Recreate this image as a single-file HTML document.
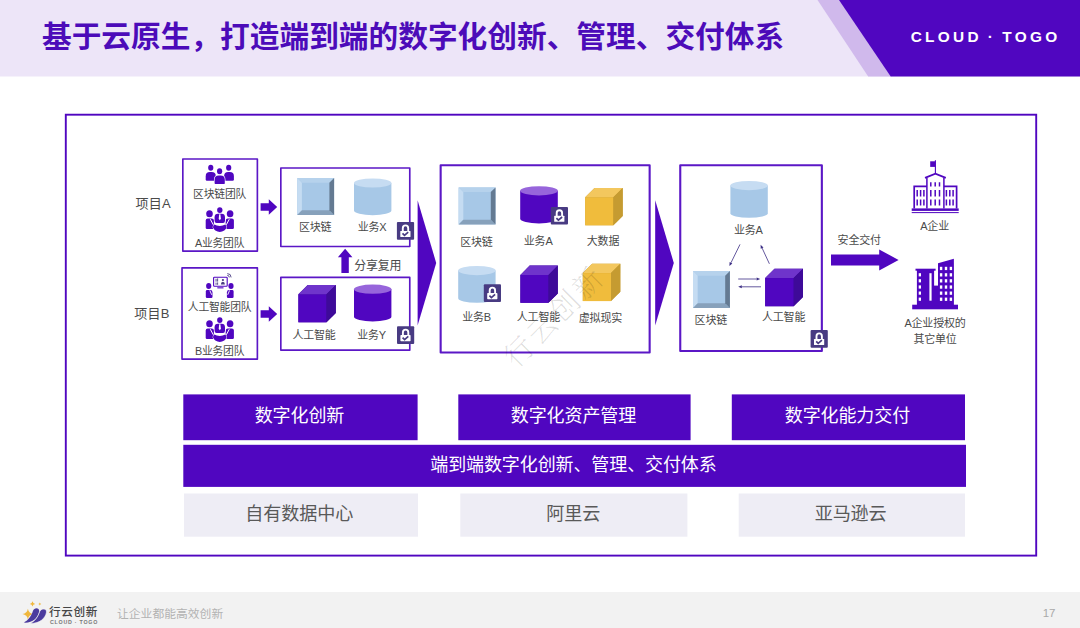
<!DOCTYPE html>
<html lang="zh-CN">
<head>
<meta charset="utf-8">
<title>基于云原生，打造端到端的数字化创新、管理、交付体系</title>
<style>
html,body{margin:0;padding:0;background:#fff;}
body{width:1080px;height:628px;overflow:hidden;font-family:"Liberation Sans","Noto Sans CJK SC",sans-serif;}
#slide{position:relative;width:1080px;height:628px;overflow:hidden;background:#fff;}
#hdr{position:absolute;left:0;top:0;width:1080px;height:77px;}
#hdr svg{position:absolute;left:0;top:0;}
#title{position:absolute;left:42px;top:37px;transform:translateY(-50%);margin:0;font-size:29.7px;line-height:1;font-weight:700;color:#4c0bb9;white-space:nowrap;letter-spacing:0px;}
#brand{position:absolute;left:985.6px;top:36.8px;transform:translate(-50%,-50%);font-size:15.4px;font-weight:700;color:#fff;letter-spacing:3.3px;word-spacing:-1.6px;white-space:nowrap;line-height:1;}
#frame{position:absolute;left:64.4px;top:113.6px;width:972.6px;height:443px;}
.bx{position:absolute;}
.t{position:absolute;transform:translate(-50%,-50%);white-space:nowrap;line-height:1;letter-spacing:-0.2px;}
.bar{position:absolute;white-space:nowrap;}
.bar span{position:absolute;transform:translate(-50%,-50%);line-height:1;letter-spacing:-0.1px;}
.wm{position:absolute;transform:translate(-50%,-50%) rotate(-45deg);font-family:"Liberation Serif","Noto Serif CJK SC",serif;font-weight:200;font-size:29px;color:rgba(0,0,0,0.14);white-space:nowrap;line-height:1;letter-spacing:3.2px;}
#shapes{position:absolute;left:0;top:0;}
#ftr{position:absolute;left:0;top:592.2px;width:1080px;height:36px;background:#f2f2f2;}
#ftr .name{position:absolute;left:49px;top:14px;font-size:11.6px;font-weight:500;color:#454545;letter-spacing:0.65px;line-height:1;white-space:nowrap;}
#ftr .en{position:absolute;left:50px;top:27.8px;font-size:5.3px;font-weight:700;color:#777;letter-spacing:0.75px;line-height:1;white-space:nowrap;}
#ftr .tag{position:absolute;left:117px;top:22.6px;transform:translateY(-50%);font-size:11.8px;color:#b2b2b2;line-height:1;white-space:nowrap;}
#ftr .pg{position:absolute;right:24.5px;top:22.3px;transform:translateY(-50%);font-size:11.5px;color:#a9a9a9;line-height:1;}
</style>
</head>
<body>
<div id="slide">
<div id="hdr">
<svg width="1080" height="77" viewBox="0 0 1080 77"><rect x="0" y="0" width="1080" height="76.5" fill="#ede5f8"/><polygon points="817.5,0 840,0 891.5,76.5 868.2,76.5" fill="#d0b9ec"/><polygon points="839,0 1080,0 1080,76.5 890.7,76.5" fill="#5006c0"/></svg>
<h1 id="title">基于云原生，打造端到端的数字化创新、管理、交付体系</h1>
<div id="brand">CLOUD · TOGO</div>
</div>
<div id="frame"></div>
<svg id="shapes" width="1080" height="628" viewBox="0 0 1080 628">
<rect x="183.3" y="394.4" width="234.30" height="45.80" fill="#5006c0"/>
<rect x="458.3" y="394.4" width="232.30" height="45.80" fill="#5006c0"/>
<rect x="731.8" y="394.4" width="233.20" height="45.80" fill="#5006c0"/>
<rect x="183.3" y="444.8" width="782.70" height="42.10" fill="#5006c0"/>
<rect x="184" y="493.5" width="234.00" height="43.20" fill="#eeedf5"/>
<rect x="460.3" y="493.5" width="227.10" height="43.20" fill="#eeedf5"/>
<rect x="738.7" y="493.5" width="226.30" height="43.20" fill="#eeedf5"/>
<rect x="65.8" y="114.7" width="970.4" height="440.9" fill="none" stroke="#5006c0" stroke-width="1.9"/>
<rect x="182.825" y="159.02499999999998" width="74.54999999999998" height="92.15" fill="none" stroke="#5b17c6" stroke-width="1.65" stroke-linejoin="round"/>
<rect x="182.02499999999998" y="267.825" width="75.35" height="91.35" fill="none" stroke="#5b17c6" stroke-width="1.65" stroke-linejoin="round"/>
<rect x="280.825" y="168.02499999999998" width="128.95000000000002" height="78.45000000000002" fill="none" stroke="#5b17c6" stroke-width="1.65" stroke-linejoin="round"/>
<rect x="280.825" y="277.425" width="128.95000000000002" height="72.74999999999997" fill="none" stroke="#5b17c6" stroke-width="1.65" stroke-linejoin="round"/>
<rect x="440.65000000000003" y="165.25" width="209.00000000000003" height="187.20000000000002" fill="none" stroke="#5b17c6" stroke-width="2.1" stroke-linejoin="round"/>
<rect x="680.25" y="165.25" width="141.59999999999994" height="185.80000000000004" fill="none" stroke="#5b17c6" stroke-width="2.1" stroke-linejoin="round"/>
<g fill="#5006c0"><ellipse cx="210.75" cy="167.8" rx="2.6" ry="3.042"/><path d="M205.7,179.60000000000002 V176.2 Q205.7,172 209.89999999999998,172 H211.6 Q215.79999999999998,172 215.79999999999998,176.2 V179.60000000000002 Q215.79999999999998,180.8 214.6,180.8 H206.89999999999998 Q205.7,180.8 205.7,179.60000000000002 Z"/></g>
<g fill="#5006c0"><ellipse cx="228.7" cy="167.8" rx="2.6" ry="3.042"/><path d="M224.1,179.60000000000002 V176.11599999999999 Q224.1,172 228.21599999999998,172 H229.784 Q233.89999999999998,172 233.89999999999998,176.11599999999999 V179.60000000000002 Q233.89999999999998,180.8 232.7,180.8 H225.29999999999998 Q224.1,180.8 224.1,179.60000000000002 Z"/></g>
<g fill="#5006c0" stroke="#fff" stroke-width="1.3" paint-order="stroke"><ellipse cx="219.6" cy="171.2" rx="2.6" ry="3.042"/><path d="M214.6,182.9 V179.7 Q214.6,175.5 218.79999999999998,175.5 H220.6 Q224.79999999999998,175.5 224.79999999999998,179.7 V182.9 Q224.79999999999998,184.1 223.6,184.1 H215.79999999999998 Q214.6,184.1 214.6,182.9 Z"/></g>
<g transform="translate(205.7,207.2)" fill="#5006c0"><ellipse cx="3.8" cy="6.55" rx="3.3" ry="3.6"/><path d="M0,20.6 V13.3 Q0,11.3 2,11.3 H6 Q8.2,11.3 8.2,13.6 V20.6 Q8.2,21.8 7,21.8 H1.2 Q0,21.8 0,20.6 Z"/><ellipse cx="24.4" cy="6.55" rx="3.3" ry="3.6"/><path d="M28.2,20.6 V13.3 Q28.2,11.3 26.2,11.3 H22.2 Q20,11.3 20,13.6 V20.6 Q20,21.8 21.2,21.8 H27 Q28.2,21.8 28.2,20.6 Z"/><path d="M4.6,12 L7.6,17.6" stroke="#fff" stroke-width="1" fill="none"/><path d="M23.6,12 L20.6,17.6" stroke="#fff" stroke-width="1" fill="none"/><path d="M8.65,17.23 A6.7,4.6 0 1 0 19.55,17.23 A7.7,5 0 0 1 8.65,17.23 Z" stroke="#fff" stroke-width="0.9" paint-order="stroke"/><ellipse cx="14.1" cy="2.9" rx="2.7" ry="2.9"/><path d="M8.9,13.6 V10 Q8.9,6.6 12.3,6.6 H15.9 Q19.3,6.6 19.3,10 V13.6 Q19.3,15.8 17.3,15.8 H10.9 Q8.9,15.8 8.9,13.6 Z" stroke="#fff" stroke-width="1" paint-order="stroke"/><path d="M13.5,7 H14.7 L15.2,11.6 L14.1,13 L13,11.6 Z" fill="#fff"/></g>
<g transform="translate(205.7,317.2)" fill="#5006c0"><ellipse cx="3.8" cy="6.55" rx="3.3" ry="3.6"/><path d="M0,20.6 V13.3 Q0,11.3 2,11.3 H6 Q8.2,11.3 8.2,13.6 V20.6 Q8.2,21.8 7,21.8 H1.2 Q0,21.8 0,20.6 Z"/><ellipse cx="24.4" cy="6.55" rx="3.3" ry="3.6"/><path d="M28.2,20.6 V13.3 Q28.2,11.3 26.2,11.3 H22.2 Q20,11.3 20,13.6 V20.6 Q20,21.8 21.2,21.8 H27 Q28.2,21.8 28.2,20.6 Z"/><path d="M4.6,12 L7.6,17.6" stroke="#fff" stroke-width="1" fill="none"/><path d="M23.6,12 L20.6,17.6" stroke="#fff" stroke-width="1" fill="none"/><path d="M8.65,17.23 A6.7,4.6 0 1 0 19.55,17.23 A7.7,5 0 0 1 8.65,17.23 Z" stroke="#fff" stroke-width="0.9" paint-order="stroke"/><ellipse cx="14.1" cy="2.9" rx="2.7" ry="2.9"/><path d="M8.9,13.6 V10 Q8.9,6.6 12.3,6.6 H15.9 Q19.3,6.6 19.3,10 V13.6 Q19.3,15.8 17.3,15.8 H10.9 Q8.9,15.8 8.9,13.6 Z" stroke="#fff" stroke-width="1" paint-order="stroke"/><path d="M13.5,7 H14.7 L15.2,11.6 L14.1,13 L13,11.6 Z" fill="#fff"/></g>
<g transform="translate(205.7,272.8)" fill="#5006c0"><rect x="7.9" y="4.4" width="13.6" height="9" rx="0.8" fill="#fff" stroke="#5006c0" stroke-width="1.1"/><rect x="11.6" y="14.5" width="6.2" height="1.1"/><g fill="#483b82"><rect x="9.9" y="6" width="0.9" height="2.8"/><rect x="11.5" y="5.6" width="0.9" height="3.2"/><rect x="9.9" y="9.8" width="0.9" height="2.2"/><rect x="11.5" y="9.6" width="0.9" height="2.4"/><circle cx="17.2" cy="7.2" r="1.1"/><path d="M15.2,11.6 Q15.2,9 17.2,9 Q19.2,9 19.2,11.6 Z"/></g><g fill="none" stroke="#483b82" stroke-width="0.9"><path d="M21.6,2.6 A2,2 0 0 1 23.6,4.6"/><path d="M21.6,0.8 A3.8,3.8 0 0 1 25.4,4.6"/></g><ellipse cx="3" cy="13.2" rx="2.6" ry="2.9"/><path d="M0.1,24 V18.6 Q0.1,17.2 1.5,17.2 H4.6 Q6.8,17.2 6.8,19.6 V24 Q6.8,25.2 5.6,25.2 H1.3 Q0.1,25.2 0.1,24 Z"/><path d="M4.1,17.6 L6,22" stroke="#fff" stroke-width="0.9" fill="none"/><ellipse cx="25.3" cy="13.2" rx="2.6" ry="2.9"/><path d="M27.9,24 V18.6 Q27.9,17.2 26.5,17.2 H23.4 Q21.2,17.2 21.2,19.6 V24 Q21.2,25.2 22.4,25.2 H26.7 Q27.9,25.2 27.9,24 Z"/><path d="M23.9,17.6 L22,22" stroke="#fff" stroke-width="0.9" fill="none"/></g>
<polygon points="260.6,203.3 268.8,203.3 268.8,199.3 277.20000000000005,207 268.8,214.7 268.8,210.7 260.6,210.7" fill="#5006c0"/>
<polygon points="260.6,310.3 268.8,310.3 268.8,306.3 277.20000000000005,314 268.8,321.7 268.8,317.7 260.6,317.7" fill="#5006c0"/>
<g><rect x="297.20" y="178.00" width="36.9" height="37.0" fill="#a7c8e7"/><polygon points="297.20,178.00 334.10,178.00 329.40,182.70 301.90,182.70" fill="#b6d2ec"/><polygon points="297.20,178.00 301.90,182.70 301.90,210.30 297.20,215.00" fill="#c5dcf2"/><polygon points="297.20,215.00 301.90,210.30 329.40,210.30 334.10,215.00" fill="#87a1bb"/><polygon points="334.10,178.00 334.10,215.00 329.40,210.30 329.40,182.70" fill="#647a92"/></g>
<g><path d="M354,183.0 V210.6 A18.7,4.6 0 0 0 391.4,210.6 V183.0 Z" fill="#a7c8e7"/><ellipse cx="372.7" cy="183.0" rx="18.7" ry="4.6" fill="#c6dcf2"/></g>
<g transform="translate(396.9,222.10) scale(1.0)"><rect x="0" y="0" width="17.2" height="17.7" rx="1" fill="#483b82"/><path d="M5.9,9.2 V6.1 A2.7,2.8 0 0 1 11.3,6.1 V9.2" fill="none" stroke="#fff" stroke-width="1.9"/><rect x="3.4" y="8.8" width="10.2" height="6.1" rx="0.6" fill="#fff"/><path d="M5.6,11.3 L7.6,13.3 L11.3,10.1" fill="none" stroke="#483b82" stroke-width="1.7"/></g>
<g><polygon points="298.4,294.3 307.7,285 335.79999999999995,285 335.79999999999995,313.0 326.49999999999994,322.3 298.4,322.3" fill="#3e0a99"/><rect x="298.4" y="294.3" width="28.099999999999998" height="27.999999999999996" fill="#5006c0"/><polygon points="298.4,294.3 307.7,285 335.79999999999995,285 326.49999999999994,294.3" fill="#6f34cb"/><polygon points="326.49999999999994,294.3 335.79999999999995,285 335.79999999999995,313.0 326.49999999999994,322.3" fill="#3e0a99"/></g>
<g><path d="M354,289.20000000000005 V316.8 A18.7,4.6 0 0 0 391.4,316.8 V289.20000000000005 Z" fill="#5006c0"/><ellipse cx="372.7" cy="289.20000000000005" rx="18.7" ry="4.6" fill="#9765db"/></g>
<g transform="translate(397,326.30) scale(1.0)"><rect x="0" y="0" width="17.2" height="17.7" rx="1" fill="#483b82"/><path d="M5.9,9.2 V6.1 A2.7,2.8 0 0 1 11.3,6.1 V9.2" fill="none" stroke="#fff" stroke-width="1.9"/><rect x="3.4" y="8.8" width="10.2" height="6.1" rx="0.6" fill="#fff"/><path d="M5.6,11.3 L7.6,13.3 L11.3,10.1" fill="none" stroke="#483b82" stroke-width="1.7"/></g>
<polygon points="345.1,248.8 352.4,257.2 348.8,257.2 348.8,273 341.4,273 341.4,257.2 337.9,257.2" fill="#5006c0"/>
<polygon points="417.6,200.3 436.2,262.9 417.6,325.6" fill="#5006c0"/>
<polygon points="655.2,200.3 673.8,262.9 655.2,325.6" fill="#5006c0"/>
<g><rect x="458.60" y="187.40" width="36.9" height="37.0" fill="#a7c8e7"/><polygon points="458.60,187.40 495.50,187.40 490.80,192.10 463.30,192.10" fill="#b6d2ec"/><polygon points="458.60,187.40 463.30,192.10 463.30,219.70 458.60,224.40" fill="#c5dcf2"/><polygon points="458.60,224.40 463.30,219.70 490.80,219.70 495.50,224.40" fill="#87a1bb"/><polygon points="495.50,187.40 495.50,224.40 490.80,219.70 490.80,192.10" fill="#647a92"/></g>
<g><path d="M520.2,190.79999999999998 V218.79999999999998 A18.8,4.6 0 0 0 557.8000000000001,218.79999999999998 V190.79999999999998 Z" fill="#5006c0"/><ellipse cx="539.0" cy="190.79999999999998" rx="18.8" ry="4.6" fill="#9765db"/></g>
<g transform="translate(550.8,206.90) scale(1.0)"><rect x="0" y="0" width="17.2" height="17.7" rx="1" fill="#483b82"/><path d="M5.9,9.2 V6.1 A2.7,2.8 0 0 1 11.3,6.1 V9.2" fill="none" stroke="#fff" stroke-width="1.9"/><rect x="3.4" y="8.8" width="10.2" height="6.1" rx="0.6" fill="#fff"/><path d="M5.6,11.3 L7.6,13.3 L11.3,10.1" fill="none" stroke="#483b82" stroke-width="1.7"/></g>
<g><polygon points="585.2,197.3 594.5,188 622.7,188 622.7,216.0 613.4000000000001,225.3 585.2,225.3" fill="#c59b31"/><rect x="585.2" y="197.3" width="28.2" height="27.999999999999996" fill="#f0bc3c"/><polygon points="585.2,197.3 594.5,188 622.7,188 613.4000000000001,197.3" fill="#f3c75e"/><polygon points="613.4000000000001,197.3 622.7,188 622.7,216.0 613.4000000000001,225.3" fill="#c59b31"/></g>
<g><path d="M458.2,270.6 V298.2 A18.7,4.6 0 0 0 495.59999999999997,298.2 V270.6 Z" fill="#a7c8e7"/><ellipse cx="476.9" cy="270.6" rx="18.7" ry="4.6" fill="#c6dcf2"/></g>
<g transform="translate(483.8,284.30) scale(1.0)"><rect x="0" y="0" width="17.2" height="17.7" rx="1" fill="#483b82"/><path d="M5.9,9.2 V6.1 A2.7,2.8 0 0 1 11.3,6.1 V9.2" fill="none" stroke="#fff" stroke-width="1.9"/><rect x="3.4" y="8.8" width="10.2" height="6.1" rx="0.6" fill="#fff"/><path d="M5.6,11.3 L7.6,13.3 L11.3,10.1" fill="none" stroke="#483b82" stroke-width="1.7"/></g>
<g><polygon points="520.4,274.90000000000003 529.6999999999999,265.6 557.8,265.6 557.8,293.5 548.5,302.8 520.4,302.8" fill="#3e0a99"/><rect x="520.4" y="274.90000000000003" width="28.099999999999998" height="27.900000000000002" fill="#5006c0"/><polygon points="520.4,274.90000000000003 529.6999999999999,265.6 557.8,265.6 548.5,274.90000000000003" fill="#6f34cb"/><polygon points="548.5,274.90000000000003 557.8,265.6 557.8,293.5 548.5,302.8" fill="#3e0a99"/></g>
<g><polygon points="582.8,273.1 592.0999999999999,263.8 620.3,263.8 620.3,291.8 611.0,301.1 582.8,301.1" fill="#c59b31"/><rect x="582.8" y="273.1" width="28.2" height="27.999999999999996" fill="#f0bc3c"/><polygon points="582.8,273.1 592.0999999999999,263.8 620.3,263.8 611.0,273.1" fill="#f3c75e"/><polygon points="611.0,273.1 620.3,263.8 620.3,291.8 611.0,301.1" fill="#c59b31"/></g>
<g><path d="M730.4,185.6 V213.20000000000002 A18.7,4.6 0 0 0 767.8,213.20000000000002 V185.6 Z" fill="#a7c8e7"/><ellipse cx="749.1" cy="185.6" rx="18.7" ry="4.6" fill="#c6dcf2"/></g>
<g><rect x="693.00" y="271.00" width="36.9" height="37.0" fill="#a7c8e7"/><polygon points="693.00,271.00 729.90,271.00 725.20,275.70 697.70,275.70" fill="#b6d2ec"/><polygon points="693.00,271.00 697.70,275.70 697.70,303.30 693.00,308.00" fill="#c5dcf2"/><polygon points="693.00,308.00 697.70,303.30 725.20,303.30 729.90,308.00" fill="#87a1bb"/><polygon points="729.90,271.00 729.90,308.00 725.20,303.30 725.20,275.70" fill="#647a92"/></g>
<g><polygon points="765.2,278.1 774.5,268.8 803.0,268.8 803.0,296.9 793.7,306.2 765.2,306.2" fill="#3e0a99"/><rect x="765.2" y="278.1" width="28.499999999999996" height="28.099999999999998" fill="#5006c0"/><polygon points="765.2,278.1 774.5,268.8 803.0,268.8 793.7,278.1" fill="#6f34cb"/><polygon points="793.7,278.1 803.0,268.8 803.0,296.9 793.7,306.2" fill="#3e0a99"/></g>
<g transform="translate(810.6,330.10) scale(1.0)"><rect x="0" y="0" width="17.2" height="17.7" rx="1" fill="#483b82"/><path d="M5.9,9.2 V6.1 A2.7,2.8 0 0 1 11.3,6.1 V9.2" fill="none" stroke="#fff" stroke-width="1.9"/><rect x="3.4" y="8.8" width="10.2" height="6.1" rx="0.6" fill="#fff"/><path d="M5.6,11.3 L7.6,13.3 L11.3,10.1" fill="none" stroke="#483b82" stroke-width="1.7"/></g>
<g><line x1="740.00" y1="244.40" x2="730.99" y2="262.77" stroke="#3d2f85" stroke-width="0.8"/><polygon points="729.40,266.00 729.64,262.11 732.33,263.43" fill="#3d2f85"/></g>
<g><line x1="769.40" y1="263.80" x2="762.11" y2="248.07" stroke="#3d2f85" stroke-width="0.8"/><polygon points="760.60,244.80 763.47,247.44 760.75,248.70" fill="#3d2f85"/></g>
<g><line x1="738.20" y1="279.00" x2="756.60" y2="279.00" stroke="#3d2f85" stroke-width="0.8"/><polygon points="760.20,279.00 756.60,280.50 756.60,277.50" fill="#3d2f85"/></g>
<g><line x1="761.00" y1="286.80" x2="741.80" y2="286.80" stroke="#3d2f85" stroke-width="0.8"/><polygon points="738.20,286.80 741.80,285.30 741.80,288.30" fill="#3d2f85"/></g>
<polygon points="831,254.6 879.2,254.6 879.2,249.4 898.6,260 879.2,270.6 879.2,265.4 831,265.4" fill="#5006c0"/>
<g transform="translate(905,155)" fill="none" stroke="#5006c0" stroke-width="1.3"><line x1="30.4" y1="5.2" x2="30.4" y2="18.4" stroke-width="1.1"/><rect x="25.2" y="6.3" width="5.2" height="5.6" fill="#5006c0" stroke="none"/><path d="M20,22.9 L30.4,18.6 L40.8,22.9" stroke-width="1.7"/><path d="M21.9,53.5 V22.9 M38.9,22.9 V53.5" stroke-width="1.5"/><path d="M9.2,53.5 V31.3 H21.9 M38.9,31.3 H51.6 V53.5" stroke-width="1.7"/><path d="M25.8,27.2 V31.6 M25.8,34.9 V41.6 M25.8,44.4 V50.6 M30.2,27.2 V31.6 M30.2,34.9 V41.6 M30.2,44.4 V50.6 M34.5,27.2 V31.6 M34.5,34.9 V41.6 M34.5,44.4 V50.6 M12.2,34.9 V41.6 M12.2,44.4 V50.6 M15.6,34.9 V41.6 M15.6,44.4 V50.6 M18.9,34.9 V41.6 M18.9,44.4 V50.6 M41.4,34.9 V41.6 M41.4,44.4 V50.6 M44.8,34.9 V41.6 M44.8,44.4 V50.6 M48.1,34.9 V41.6 M48.1,44.4 V50.6" stroke-width="1.5"/><rect x="6.7" y="53.4" width="47" height="2.5" fill="#5006c0" stroke="none"/><rect x="6.7" y="57.1" width="47" height="1" fill="#5006c0" stroke="none"/></g>
<g transform="translate(905,252)" fill="#5006c0"><rect x="7.2" y="52.7" width="45.8" height="4.6"/><rect x="10.5" y="16.7" width="20.1" height="2"/><rect x="11.9" y="17" width="17.2" height="36"/><rect x="29" y="33.6" width="5" height="20"/><polygon points="33,11.3 48.9,6.7 48.9,53 33,53"/><g fill="#fff"><rect x="13.7" y="21.2" width="2.3" height="3.2"/><rect x="13.7" y="27.2" width="2.3" height="3.2"/><rect x="13.7" y="33.4" width="2.3" height="3.2"/><rect x="13.7" y="39.5" width="2.3" height="3.2"/><rect x="13.7" y="45.6" width="2.3" height="3.2"/><rect x="24.4" y="21.2" width="2.2" height="27.5"/><rect x="34.9" y="14.8" width="2.4" height="3.3"/><rect x="34.9" y="21.2" width="2.4" height="3.3"/><rect x="34.9" y="27.2" width="2.4" height="3.3"/><rect x="34.9" y="33.4" width="2.4" height="3.3"/><rect x="34.9" y="39.5" width="2.4" height="3.3"/><rect x="34.9" y="45.6" width="2.4" height="3.3"/><rect x="39.8" y="14.8" width="2.4" height="3.3"/><rect x="39.8" y="21.2" width="2.4" height="3.3"/><rect x="39.8" y="27.2" width="2.4" height="3.3"/><rect x="39.8" y="33.4" width="2.4" height="3.3"/><rect x="39.8" y="39.5" width="2.4" height="3.3"/><rect x="39.8" y="45.6" width="2.4" height="3.3"/><rect x="44.7" y="14.8" width="2.4" height="3.3"/><rect x="44.7" y="21.2" width="2.4" height="3.3"/><rect x="44.7" y="27.2" width="2.4" height="3.3"/><rect x="44.7" y="33.4" width="2.4" height="3.3"/><rect x="44.7" y="39.5" width="2.4" height="3.3"/><rect x="44.7" y="45.6" width="2.4" height="3.3"/></g></g>
</svg>
<div class="bx" style="left:182px;top:158.2px;width:76.19999999999999px;height:93.80000000000001px"></div>
<div class="bx" style="left:181.2px;top:267px;width:77.0px;height:93px"></div>
<div class="bx" style="left:280px;top:167.2px;width:130.60000000000002px;height:80.10000000000002px"></div>
<div class="bx" style="left:280px;top:276.6px;width:130.60000000000002px;height:74.39999999999998px"></div>
<div class="bx" style="left:439.6px;top:164.2px;width:211.10000000000002px;height:189.3px"></div>
<div class="bx" style="left:679.2px;top:164.2px;width:143.69999999999993px;height:187.90000000000003px"></div>
<div class="t" style="left:153.2px;top:203px;font-size:13px;color:#4a4a4a;font-weight:400;letter-spacing:0.3px">项目A</div>
<div class="t" style="left:152px;top:313px;font-size:13px;color:#4a4a4a;font-weight:400;letter-spacing:0.3px">项目B</div>
<div class="t" style="left:219.6px;top:193.8px;font-size:10.8px;color:#4a4a4a;font-weight:400;">区块链团队</div>
<div class="t" style="left:219.6px;top:242.5px;font-size:10.8px;color:#4a4a4a;font-weight:400;">A业务团队</div>
<div class="t" style="left:219.6px;top:307px;font-size:10.8px;color:#4a4a4a;font-weight:400;">人工智能团队</div>
<div class="t" style="left:219.6px;top:350.7px;font-size:10.8px;color:#4a4a4a;font-weight:400;">B业务团队</div>
<div class="t" style="left:315.2px;top:227px;font-size:11px;color:#4a4a4a;font-weight:400;">区块链</div>
<div class="t" style="left:372px;top:227px;font-size:11px;color:#4a4a4a;font-weight:400;">业务X</div>
<div class="t" style="left:314px;top:334.5px;font-size:11px;color:#4a4a4a;font-weight:400;">人工智能</div>
<div class="t" style="left:371.5px;top:334.5px;font-size:11px;color:#4a4a4a;font-weight:400;">业务Y</div>
<div class="t" style="left:377.8px;top:266.3px;font-size:12px;color:#4a4a4a;font-weight:400;">分享复用</div>
<div class="t" style="left:476.4px;top:241.6px;font-size:11px;color:#4a4a4a;font-weight:400;">区块链</div>
<div class="t" style="left:538.2px;top:241.2px;font-size:11px;color:#4a4a4a;font-weight:400;">业务A</div>
<div class="t" style="left:603px;top:241.3px;font-size:11px;color:#4a4a4a;font-weight:400;">大数据</div>
<div class="t" style="left:476.6px;top:317.2px;font-size:11px;color:#4a4a4a;font-weight:400;">业务B</div>
<div class="t" style="left:538.4px;top:316.9px;font-size:11px;color:#4a4a4a;font-weight:400;">人工智能</div>
<div class="t" style="left:600.4px;top:317.6px;font-size:11px;color:#4a4a4a;font-weight:400;">虚拟现实</div>
<div class="wm" style="left:554.5px;top:317px">行云创新</div>
<div class="t" style="left:748.4px;top:229.6px;font-size:11px;color:#4a4a4a;font-weight:400;">业务A</div>
<div class="t" style="left:710.8px;top:320px;font-size:11px;color:#4a4a4a;font-weight:400;">区块链</div>
<div class="t" style="left:783.6px;top:316.6px;font-size:11px;color:#4a4a4a;font-weight:400;">人工智能</div>
<div class="t" style="left:859.2px;top:239.7px;font-size:11px;color:#4a4a4a;font-weight:400;">安全交付</div>
<div class="t" style="left:934.6px;top:226px;font-size:11px;color:#4a4a4a;font-weight:400;">A企业</div>
<div class="t" style="left:935px;top:322.9px;font-size:11px;color:#4a4a4a;font-weight:400;">A企业授权的</div>
<div class="t" style="left:935px;top:339px;font-size:11px;color:#4a4a4a;font-weight:400;">其它单位</div>
<div class="bar" style="left:183.3px;top:394.4px;width:234.30px;height:45.80px;color:#fff;font-size:18.0px"><span style="left:116.15px;top:21.90px">数字化创新</span></div>
<div class="bar" style="left:458.3px;top:394.4px;width:232.30px;height:45.80px;color:#fff;font-size:18.0px"><span style="left:115.15px;top:21.90px">数字化资产管理</span></div>
<div class="bar" style="left:731.8px;top:394.4px;width:233.20px;height:45.80px;color:#fff;font-size:18.0px"><span style="left:115.60px;top:21.90px">数字化能力交付</span></div>
<div class="bar" style="left:183.3px;top:444.8px;width:782.70px;height:42.10px;color:#fff;font-size:18.0px"><span style="left:390.15px;top:20.45px">端到端数字化创新、管理、交付体系</span></div>
<div class="bar" style="left:184px;top:493.5px;width:234.00px;height:43.20px;color:#595959;font-size:18.1px"><span style="left:115.20px;top:20.60px">自有数据中心</span></div>
<div class="bar" style="left:460.3px;top:493.5px;width:227.10px;height:43.20px;color:#595959;font-size:18.1px"><span style="left:112.95px;top:20.60px">阿里云</span></div>
<div class="bar" style="left:738.7px;top:493.5px;width:226.30px;height:43.20px;color:#595959;font-size:18.1px"><span style="left:111.95px;top:20.60px">亚马逊云</span></div>
<div id="ftr">
<svg width="60" height="36" viewBox="0 0 60 36" style="position:absolute;left:0;top:0"><g transform="translate(15,2.8)"><path d="M12.9,13.9 Q13.7,18.4 18.2,19.2 Q13.7,20 12.9,24.6 Q12.1,20 7.5,19.2 Q12.1,18.4 12.9,13.9 Z" fill="#f0b73c"/><path d="M8.75,27.8 C13.5,25.6 16.6,20.6 18.0,16.0 C19.2,12.4 24.6,12.6 24.2,16.6 C23.4,23 16.8,28.6 8.75,27.8 Z" fill="#4b3b9e"/><path d="M15.45,28.5 C20.2,26.3 23.3,21.3 24.7,16.7 C26.1,13.1 31.9,13.3 31.5,17.3 C30.7,23.7 23.8,29.3 15.45,28.5 Z" fill="#4b3b9e" stroke="#f2f2f2" stroke-width="0.7"/><path d="M17.5,6.4 Q17.9,8.7 20.2,9.1 Q17.9,9.5 17.5,11.8 Q17.1,9.5 14.8,9.1 Q17.1,8.7 17.5,6.4 Z" fill="#f0b73c"/><path d="M24.8,7.6 Q25,8.9 26.3,9.1 Q25,9.3 24.8,10.6 Q24.6,9.3 23.3,9.1 Q24.6,8.9 24.8,7.6 Z" fill="#f0b73c"/></g></svg>
<div class="name">行云创新</div>
<div class="en">CLOUD · TOGO</div>
<div class="tag">让企业都能高效创新</div>
<div class="pg">17</div>
</div>
</div>
</body>
</html>
